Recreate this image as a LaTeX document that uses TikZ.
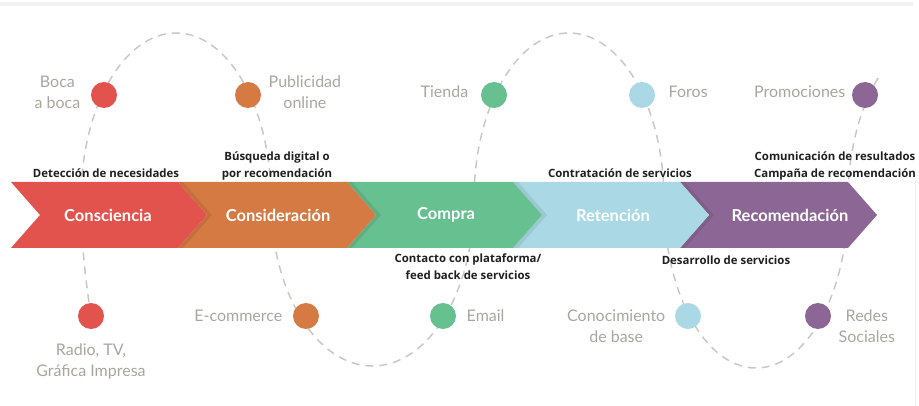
\documentclass[tikz,border=0pt]{standalone}
\usepackage{fontspec}
\setmainfont{Lato}
\newfontfamily\actionfont{Open Sans}
\usetikzlibrary{positioning}

\definecolor{cred}{RGB}{226,83,78}
\definecolor{corange}{RGB}{213,122,67}
\definecolor{cgreen}{RGB}{103,192,143}
\definecolor{cblue}{RGB}{170,216,229}
\definecolor{cpurple}{RGB}{140,103,150}
\definecolor{ctext}{RGB}{168,166,158}
\definecolor{cdash}{RGB}{200,200,196}

\begin{document}
\begin{tikzpicture}[x=1pt,y=1pt,
    dot/.style={circle,minimum size=26pt,inner sep=0pt},
    touch/.style={text=ctext,font=\fontsize{16}{21}\selectfont,align=center},
    stage/.style={text=white,font=\bfseries\fontsize{16.5}{20}\selectfont},
    action/.style={text=black!88,font=\actionfont\bfseries\fontsize{11.4}{17}\selectfont,align=center},
    shade/.style={black,opacity=0.08}]
                \useasboundingbox (0,0) rectangle (919,-406);
                \draw[black!5, line width=4pt] (0,-4) -- (913,-4);
                \draw[black!6, line width=1pt] (915,-180) -- (915,-406);
                \draw[cdash, line width=1.5pt, dash pattern=on 8pt off 6pt]
                    (91,-316) .. controls (84,-270) and (81,-235) .. (81,-200)
                    arc[start angle=180,end angle=0,x radius=95pt,y radius=167pt]
                    arc[start angle=180,end angle=360,x radius=101.5pt,y radius=166pt]
                    arc[start angle=180,end angle=0,x radius=95pt,y radius=167pt]
                    arc[start angle=180,end angle=360,x radius=92pt,y radius=168pt]
                    arc[start angle=180,end angle=133,x radius=95pt,y radius=167pt];
                \fill[cpurple] (680,-182) -- (848,-182) -- (877,-215) -- (848,-248) -- (680,-248) -- (709,-215) -- cycle;
                \fill[shade] (680,-182) -- (709,-215) -- (680,-248) -- (685,-248) -- (714,-215) -- (685,-182) -- cycle;
                \fill[cblue] (513,-182) -- (680,-182) -- (709,-215) -- (680,-248) -- (513,-248) -- (542,-215) -- cycle;
                \fill[shade] (513,-182) -- (542,-215) -- (513,-248) -- (518,-248) -- (547,-215) -- (518,-182) -- cycle;
                \fill[cgreen] (347,-182) -- (513,-182) -- (542,-215) -- (513,-248) -- (347,-248) -- (376,-215) -- cycle;
                \fill[shade] (347,-182) -- (376,-215) -- (347,-248) -- (352,-248) -- (381,-215) -- (352,-182) -- cycle;
                \fill[corange] (178,-182) -- (347,-182) -- (376,-215) -- (347,-248) -- (178,-248) -- (207,-215) -- cycle;
                \fill[shade] (178,-182) -- (207,-215) -- (178,-248) -- (183,-248) -- (212,-215) -- (183,-182) -- cycle;
                \fill[cred] (11,-182) -- (178,-182) -- (207,-215) -- (178,-248) -- (11,-248) -- (40,-215) -- cycle;
                \node[stage] (consciencia) at (108,-215) {Consciencia};
                \node[stage] (consideracion) at (278,-215) {Consideración};
                \node[stage] (compra) at (446,-215) {Compra};
                \node[stage] (retencion) at (613,-215) {Retención};
                \node[stage] (recomendacion) at (790,-215) {Recomendación};
                \node[dot,fill=cred] (boca) at (104,-95) {};
                \node[dot,fill=corange] (publicidad) at (248,-95) {};
                \node[dot,fill=cgreen] (tienda) at (494,-95) {};
                \node[dot,fill=cblue] (foros) at (642,-95) {};
                \node[dot,fill=cpurple] (promociones) at (865,-95) {};
                \node[dot,fill=cred] (radio) at (91,-316) {};
                \node[dot,fill=corange] (ecommerce) at (306,-316) {};
                \node[dot,fill=cgreen] (email) at (443,-316) {};
                \node[dot,fill=cblue] (conocimiento) at (688,-316) {};
                \node[dot,fill=cpurple] (redes) at (818,-316) {};
                \node[touch, left=7pt of boca, yshift=3pt] (bocatxt) {Boca\\a boca};
                \node[touch, right=4pt of publicidad, yshift=3pt] (publicidadtxt) {Publicidad\\online};
                \node[touch, left=9pt of tienda, yshift=3pt] (tiendatxt) {Tienda};
                \node[touch, right=10pt of foros, yshift=3pt] (forostxt) {Foros};
                \node[touch, left=3pt of promociones, yshift=3pt] (promocionestxt) {Promociones};
                \node[touch, below=11pt of radio] (radiotxt) {Radio, TV,\\Gráfica Impresa};
                \node[touch, left=7pt of ecommerce] (ecommercetxt) {E-commerce};
                \node[touch, right=7pt of email] (emailtxt) {Email};
                \node[touch, left=6pt of conocimiento, yshift=-10pt] (conocimientotxt) {Conocimiento\\de base};
                \node[touch, right=4pt of redes, yshift=-10pt] (redestxt) {Redes\\Sociales};
                \node[action] (deteccion) at (106,-173) {Detección de necesidades};
                \node[action] (busqueda) at (277,-166) {Búsqueda digital o\\por recomendación};
                \node[action] (contratacion) at (620,-173) {Contratación de servicios};
                \node[action] (comunicacion) at (835,-166) {Comunicación de resultados\\Campaña de recomendación};
                \node[action] (contacto) at (468,-267) {Contacto con plataforma/\\feed back de servicios};
                \node[action] (desarrollo) at (726,-260) {Desarrollo de servicios};
            \end{tikzpicture}
\end{document}
